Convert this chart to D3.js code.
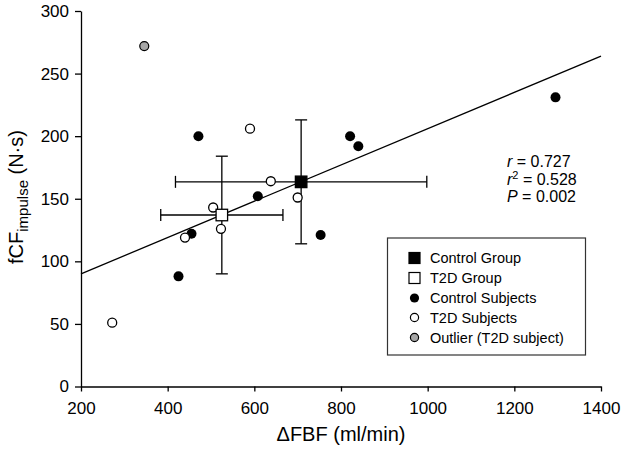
<!DOCTYPE html>
<html>
<head>
<meta charset="utf-8">
<script src="https://cdn.jsdelivr.net/npm/d3@7"></script>
<style>
  html, body { margin: 0; padding: 0; background: #fff; }
  svg { display: block; font-family: "Liberation Sans", Arial, Helvetica, sans-serif; }
</style>
</head>
<body>
<svg id="chart" width="622" height="450"></svg>
<script>
// ---- data ----
const controlX = [425, 455, 471, 608, 753, 821, 840, 1295];
const controlY = [88, 122, 200, 152, 121, 200, 192, 231];
const t2dX = [272, 440, 505, 523, 590, 638, 700];
const t2dY = [51, 119, 143, 126, 206, 164, 151];
const outlierX = [346];
const outlierY = [272];
const groupNames = ["Control Group", "T2D Group"];
const groupX = [708, 525];
const groupY = [163.5, 137];
const groupXErr = [290, 141];
const groupYErr = [49.5, 47];
const fitX = [200, 1400];
const fitY = [90, 264];
const xTicks = [200, 400, 600, 800, 1000, 1200, 1400];
const yTicks = [0, 50, 100, 150, 200, 250, 300];
const legendLabels = ["Control Group", "T2D Group", "Control Subjects", "T2D Subjects", "Outlier (T2D subject)"];
const statsR = "0.727", statsR2 = "0.528", statsP = "0.002";

// ---- layout ----
const svg = d3.select("#chart");
const x = d3.scaleLinear().domain([200, 1400]).range([81, 601]);
const y = d3.scaleLinear().domain([0, 300]).range([386.5, 11]);
const sw = 1.3;

// axes
const xAxis = svg.append("g").attr("transform", `translate(0,${y(0)})`)
  .call(d3.axisBottom(x).tickValues(xTicks).tickSize(5).tickPadding(10).tickSizeOuter(0).tickFormat(d3.format("d")));
const yAxis = svg.append("g").attr("transform", `translate(${x(200)},0)`)
  .call(d3.axisLeft(y).tickValues(yTicks).tickSize(6).tickPadding(6).tickSizeOuter(0).tickFormat(d3.format("d")));
[xAxis, yAxis].forEach(g => {
  g.selectAll("path").attr("stroke", "#000").attr("stroke-width", sw);
  g.selectAll("line").attr("stroke", "#000").attr("stroke-width", sw);
  g.selectAll("text").attr("fill", "#000").attr("font-size", 17).attr("font-family", "Liberation Sans, Arial, sans-serif");
});

// axis titles
svg.append("text").attr("x", 341).attr("y", 441).attr("text-anchor", "middle")
  .attr("font-size", 20).text("\u0394FBF (ml/min)");
const yt = svg.append("text").attr("transform", "translate(23,197) rotate(-90)")
  .attr("text-anchor", "middle").attr("font-size", 20);
yt.append("tspan").text("fCF");
yt.append("tspan").attr("font-size", 15).attr("dy", 5).text("impulse");
yt.append("tspan").attr("dy", -5).text(" (N\u00B7s)");

// error bars
const cap = 6;
groupX.forEach((gx, i) => {
  const g = svg.append("g").attr("stroke", "#000").attr("stroke-width", sw);
  const cx = x(gx), cy = y(groupY[i]);
  const x0 = x(gx - groupXErr[i]), x1 = x(gx + groupXErr[i]);
  const y0 = y(groupY[i] - groupYErr[i]), y1 = y(groupY[i] + groupYErr[i]);
  g.append("line").attr("x1", x0).attr("x2", x1).attr("y1", cy).attr("y2", cy);
  g.append("line").attr("x1", x0).attr("x2", x0).attr("y1", cy - cap).attr("y2", cy + cap);
  g.append("line").attr("x1", x1).attr("x2", x1).attr("y1", cy - cap).attr("y2", cy + cap);
  g.append("line").attr("x1", cx).attr("x2", cx).attr("y1", y0).attr("y2", y1);
  g.append("line").attr("x1", cx - cap).attr("x2", cx + cap).attr("y1", y0).attr("y2", y0);
  g.append("line").attr("x1", cx - cap).attr("x2", cx + cap).attr("y1", y1).attr("y2", y1);
});

// regression line
svg.append("line").attr("x1", x(fitX[0])).attr("y1", y(fitY[0]))
  .attr("x2", x(fitX[1])).attr("y2", y(fitY[1]))
  .attr("stroke", "#000").attr("stroke-width", sw);

// points
const r = 5;
svg.append("g").selectAll("circle").data(controlX.map((d, i) => [d, controlY[i]])).join("circle")
  .attr("cx", d => x(d[0])).attr("cy", d => y(d[1])).attr("r", r).attr("fill", "#000");
svg.append("g").selectAll("circle").data(t2dX.map((d, i) => [d, t2dY[i]])).join("circle")
  .attr("cx", d => x(d[0])).attr("cy", d => y(d[1])).attr("r", r - 0.5)
  .attr("fill", "#fff").attr("stroke", "#000").attr("stroke-width", 1.3);
svg.append("g").selectAll("circle").data(outlierX.map((d, i) => [d, outlierY[i]])).join("circle")
  .attr("cx", d => x(d[0])).attr("cy", d => y(d[1])).attr("r", r - 0.5)
  .attr("fill", "#a6a6a6").attr("stroke", "#000").attr("stroke-width", 1.2);

// group squares
const sq = 11.5;
groupX.forEach((gx, i) => {
  svg.append("rect").attr("x", x(gx) - sq / 2).attr("y", y(groupY[i]) - sq / 2)
    .attr("width", sq).attr("height", sq)
    .attr("fill", i === 0 ? "#000" : "#fff").attr("stroke", "#000").attr("stroke-width", 1.3);
});

// stats annotation
const st = svg.append("g").attr("font-size", 16);
const t1 = st.append("text").attr("x", 507).attr("y", 167);
t1.append("tspan").attr("font-style", "italic").text("r");
t1.append("tspan").text(" = " + statsR);
const t2 = st.append("text").attr("x", 507).attr("y", 185);
t2.append("tspan").attr("font-style", "italic").text("r");
t2.append("tspan").attr("font-size", 11).attr("dy", -6).text("2");
t2.append("tspan").attr("dy", 6).text(" = " + statsR2);
const t3 = st.append("text").attr("x", 507).attr("y", 202);
t3.append("tspan").attr("font-style", "italic").text("P");
t3.append("tspan").text(" = " + statsP);

// legend
const lg = svg.append("g");
lg.append("rect").attr("x", 387.5).attr("y", 238).attr("width", 198).attr("height", 117)
  .attr("fill", "#fff").attr("stroke", "#333").attr("stroke-width", 1.2);
const ly = [258, 278, 298, 317.5, 337.5];
const lsx = 414.5;
legendLabels.forEach((lab, i) => {
  const yy = ly[i];
  if (i < 2) {
    lg.append("rect").attr("x", lsx - 5.5).attr("y", yy - 5.5).attr("width", 11).attr("height", 11)
      .attr("fill", i === 0 ? "#000" : "#fff").attr("stroke", "#000").attr("stroke-width", 1.2);
  } else {
    lg.append("circle").attr("cx", lsx).attr("cy", yy).attr("r", i === 2 ? 4.6 : 4.1)
      .attr("fill", i === 2 ? "#000" : (i === 3 ? "#fff" : "#a6a6a6"))
      .attr("stroke", "#000").attr("stroke-width", i === 2 ? 0 : 1.2);
  }
  lg.append("text").attr("x", 430).attr("y", yy).attr("dy", "0.36em")
    .attr("font-size", 14.5).text(lab);
});
</script>
</body>
</html>
